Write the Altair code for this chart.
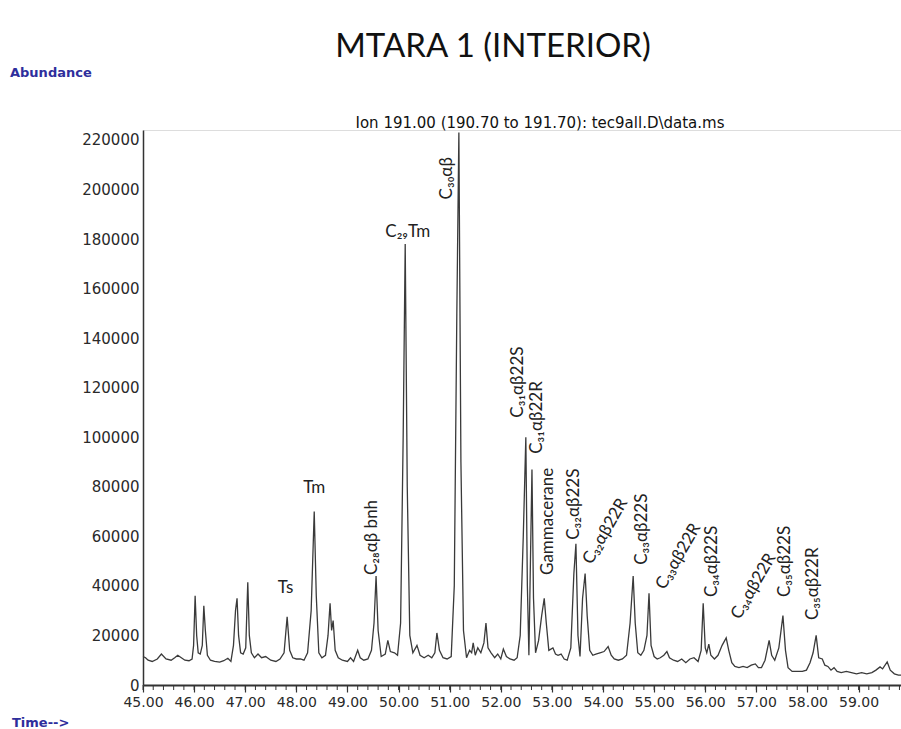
import altair as alt
import pandas as pd

# Ion 191 chromatogram (retention time in minutes, abundance)
rt_min = [
    45.00, 45.05, 45.10, 45.18, 45.28, 45.36, 45.45, 45.55, 45.62, 45.68, 45.75, 45.82, 45.90, 45.96,
    45.99, 46.02, 46.05, 46.08, 46.12, 46.16, 46.19, 46.22, 46.26, 46.32, 46.40, 46.50, 46.58, 46.66,
    46.72, 46.77, 46.81, 46.84, 46.87, 46.91, 46.96, 47.01, 47.05, 47.08, 47.12, 47.18, 47.25, 47.32,
    47.40, 47.50, 47.60, 47.68, 47.76, 47.82, 47.87, 47.93, 48.00, 48.08, 48.15, 48.22, 48.29, 48.35,
    48.39, 48.44, 48.50, 48.57, 48.62, 48.66, 48.69, 48.72, 48.76, 48.82, 48.90, 49.00, 49.06, 49.12,
    49.20, 49.25, 49.32, 49.40, 49.47, 49.52, 49.56, 49.60, 49.66, 49.74, 49.79, 49.84, 49.92, 49.98,
    50.04, 50.09, 50.13, 50.17, 50.22, 50.28, 50.36, 50.42, 50.50, 50.58, 50.65, 50.71, 50.75, 50.80,
    50.87, 50.95, 51.03, 51.09, 51.14, 51.18, 51.22, 51.27, 51.33, 51.39, 51.43, 51.46, 51.50, 51.55,
    51.61, 51.67, 51.71, 51.75, 51.81, 51.88, 51.94, 52.00, 52.05, 52.11, 52.18, 52.26, 52.32, 52.38,
    52.44, 52.49, 52.52, 52.55, 52.58, 52.61, 52.64, 52.68, 52.74, 52.80, 52.85, 52.89, 52.94, 53.02,
    53.07, 53.12, 53.18, 53.24, 53.30, 53.37, 53.43, 53.47, 53.51, 53.55, 53.60, 53.65, 53.69, 53.74,
    53.80, 53.86, 53.94, 54.02, 54.10, 54.16, 54.22, 54.30, 54.38, 54.46, 54.53, 54.59, 54.63, 54.68,
    54.74, 54.80, 54.86, 54.90, 54.94, 55.00, 55.06, 55.12, 55.19, 55.25, 55.30, 55.38, 55.46, 55.54,
    55.62, 55.70, 55.78, 55.86, 55.92, 55.96, 56.00, 56.03, 56.07, 56.11, 56.18, 56.25, 56.33, 56.41,
    56.46, 56.52, 56.58, 56.66, 56.74, 56.82, 56.90, 56.98, 57.04, 57.10, 57.17, 57.25, 57.30, 57.36,
    57.44, 57.52, 57.57, 57.62, 57.70, 57.80, 57.90, 57.98, 58.05, 58.11, 58.17, 58.22, 58.29, 58.34,
    58.40, 58.46, 58.52, 58.58, 58.66, 58.76, 58.86, 58.96, 59.06, 59.16, 59.26, 59.34, 59.42, 59.47,
    59.56, 59.62, 59.70, 59.78, 59.83,
]
abundance = [
    11500, 11000, 10000, 9500, 10500, 12500, 10500, 10000, 11000, 12000, 11000, 10000, 9800, 10500,
    16000, 36000, 20000, 13000, 12500, 16000, 32000, 22000, 12000, 10000, 9500, 9200, 9800, 10800,
    9500, 16000, 30000, 35000, 20000, 13000, 12500, 15000, 41500, 20000, 13000, 11000, 12500, 11000,
    11500, 10000, 9500, 10500, 13000, 27500, 14000, 11000, 10500, 10500, 10000, 13000, 30000, 70000,
    36000, 13000, 11000, 12000, 20000, 33000, 22000, 26000, 14000, 11000, 10000, 9500, 11000, 9500,
    14000, 11000, 10000, 10500, 14000, 25000, 44000, 22000, 11500, 12500, 18000, 13500, 13000, 12000,
    25000, 100000, 178000, 80000, 20000, 13000, 16000, 12000, 11000, 12000, 11000, 13000, 21000, 14000,
    11000, 10500, 11500, 40000, 150000, 223000, 90000, 22000, 11000, 14000, 13000, 17000, 12000, 15000,
    13000, 17000, 25000, 15000, 13000, 11000, 12500, 10500, 14500, 11500, 10500, 10000, 11000, 20000,
    60000, 100000, 40000, 12000, 50000, 87000, 35000, 13000, 18000, 28000, 35000, 25000, 14000, 15000,
    12500, 12000, 12500, 10500, 10000, 15000, 45000, 57000, 20000, 11500, 35000, 45000, 28000, 14000,
    12000, 12500, 13000, 13500, 15500, 12000, 10500, 10000, 10500, 12000, 25000, 44000, 25000, 13000,
    12000, 14000, 20000, 37000, 16000, 11500, 10500, 11000, 12000, 13500, 11000, 10000, 9500, 10500,
    9000, 10500, 11000, 9500, 14000, 33000, 15000, 13000, 16500, 12000, 10500, 12000, 16000, 19000,
    14000, 9000, 7500, 7000, 7500, 7000, 8000, 8500, 7000, 7000, 10000, 18000, 12000, 10000,
    15000, 28000, 14000, 7000, 5500, 5500, 5500, 6000, 9000, 13000, 20000, 11000, 10500, 8000,
    7500, 6000, 7000, 5500, 5000, 5500, 5000, 4500, 5000, 4500, 5000, 6000, 7300, 6500,
    9300, 6000, 4500, 4000, 4000,
]

# Compound annotations: name, retention time and abundance at the start of the text
upright_names = ["Ts", "Tm", "C₂₉Tm"]
upright_rt = [47.79, 48.35, 50.18]
upright_abund = [39000, 79600, 183000]

tilted_names = [
    "C₂₈αβ bnh", "C₃₀αβ", "C₃₁αβ22S", "C₃₁αβ22R", "Gammacerane", "C₃₂αβ22S",
    "C₃₂αβ22R", "C₃₃αβ22S", "C₃₃αβ22R", "C₃₄αβ22S", "C₃₄αβ22R", "C₃₅αβ22S", "C₃₅αβ22R",
]
tilted_rt = [49.48, 50.95, 52.34, 52.71, 52.92, 53.43,
             53.69, 54.77, 55.12, 56.13, 56.59, 57.56, 58.10]
tilted_abund = [44400, 196000, 107900, 93300, 44400, 58600,
                49300, 48500, 39200, 35500, 27100, 35500, 26200]
tilted_angle = [270, 270, 270, 270, 270, 270,
                300, 270, 300, 270, 300, 270, 270]

x_ticks = [45, 46, 47, 48, 49, 50, 51, 52, 53, 54, 55, 56, 57, 58, 59]
y_ticks = [0, 20000, 40000, 60000, 80000, 100000, 120000, 140000,
           160000, 180000, 200000, 220000]
minor_x = [round(45 + 0.2 * i, 1) for i in range(75)]

trace = pd.DataFrame({"rt": rt_min, "abundance": abundance})
upright = pd.DataFrame({"name": upright_names, "rt": upright_rt, "abundance": upright_abund})
tilted = pd.DataFrame({"name": tilted_names, "rt": tilted_rt,
                       "abundance": tilted_abund, "angle": tilted_angle})
minor = pd.DataFrame({"rt": minor_x})

x_scale = alt.Scale(domain=[45, 59.83], nice=False, zero=False)
y_scale = alt.Scale(domain=[0, 224000], nice=False)

axis_font = "DejaVu Sans"
label_font = "Lato"

line = alt.Chart(trace).mark_line(color="#3a3a3a", strokeWidth=1.3, interpolate="linear").encode(
    x=alt.X("rt:Q", scale=x_scale, title=None,
            axis=alt.Axis(values=x_ticks, format=".2f", labelFont=axis_font, labelFontSize=14,
                          labelColor="#2a2a2a", tickSize=7, tickColor="#333", tickWidth=1.2,
                          domainColor="#333", domainWidth=2, labelPadding=3, grid=False,
                          labelFlush=False)),
    y=alt.Y("abundance:Q", scale=y_scale, title=None,
            axis=alt.Axis(values=y_ticks, format="d", labelFont=axis_font, labelFontSize=15,
                          labelColor="#2a2a2a", ticks=False, domainColor="#333", domainWidth=1.5,
                          labelPadding=4, grid=False)),
)

minor_ticks = alt.Chart(minor).mark_rule(color="#333", strokeWidth=1).encode(
    x=alt.X("rt:Q", scale=x_scale),
    y=alt.value(555),
    y2=alt.value(560),
)

upright_text = alt.Chart(upright).mark_text(
    font=label_font, fontSize=17, color="#222", align="center", baseline="middle"
).encode(
    x=alt.X("rt:Q", scale=x_scale),
    y=alt.Y("abundance:Q", scale=y_scale),
    text="name:N",
)

tilted_text = alt.Chart(tilted).mark_text(
    font=label_font, fontSize=17, color="#222", align="left", baseline="middle"
).encode(
    x=alt.X("rt:Q", scale=x_scale),
    y=alt.Y("abundance:Q", scale=y_scale),
    angle=alt.Angle("angle:Q", scale=None),
    text="name:N",
)

title_text = alt.Chart(pd.DataFrame({"t": ["MTARA 1 (INTERIOR)"]})).mark_text(
    font=label_font, fontSize=33, color="#111", align="center", baseline="alphabetic"
).encode(x=alt.value(350), y=alt.value(-73), text="t:N")

y_name = alt.Chart(pd.DataFrame({"t": ["Abundance"]})).mark_text(
    font=axis_font, fontSize=13, fontWeight="bold", color="#2e2e9c", align="left", baseline="middle"
).encode(x=alt.value(-133), y=alt.value(-57), text="t:N")

x_name = alt.Chart(pd.DataFrame({"t": ["Time-->"]})).mark_text(
    font=axis_font, fontSize=13, fontWeight="bold", color="#2e2e9c", align="left", baseline="top"
).encode(x=alt.value(-131), y=alt.value(587), text="t:N")

ion_note = alt.Chart(pd.DataFrame({"t": ["Ion 191.00 (190.70 to 191.70): tec9all.D\\data.ms"]})).mark_text(
    font=axis_font, fontSize=15, color="#111", align="center", baseline="middle"
).encode(x=alt.value(397), y=alt.value(-7), text="t:N")

chart = alt.layer(
    line, minor_ticks, upright_text, tilted_text, title_text, y_name, x_name, ion_note
).properties(
    width=758,
    height=555,
    autosize=alt.AutoSizeParams(type="none"),
    padding={"left": 143, "top": 130, "right": 0, "bottom": 44},
).configure_view(stroke=None).configure(background="white")

chart.save("out.html", embed_options={"renderer": "svg", "actions": False})
